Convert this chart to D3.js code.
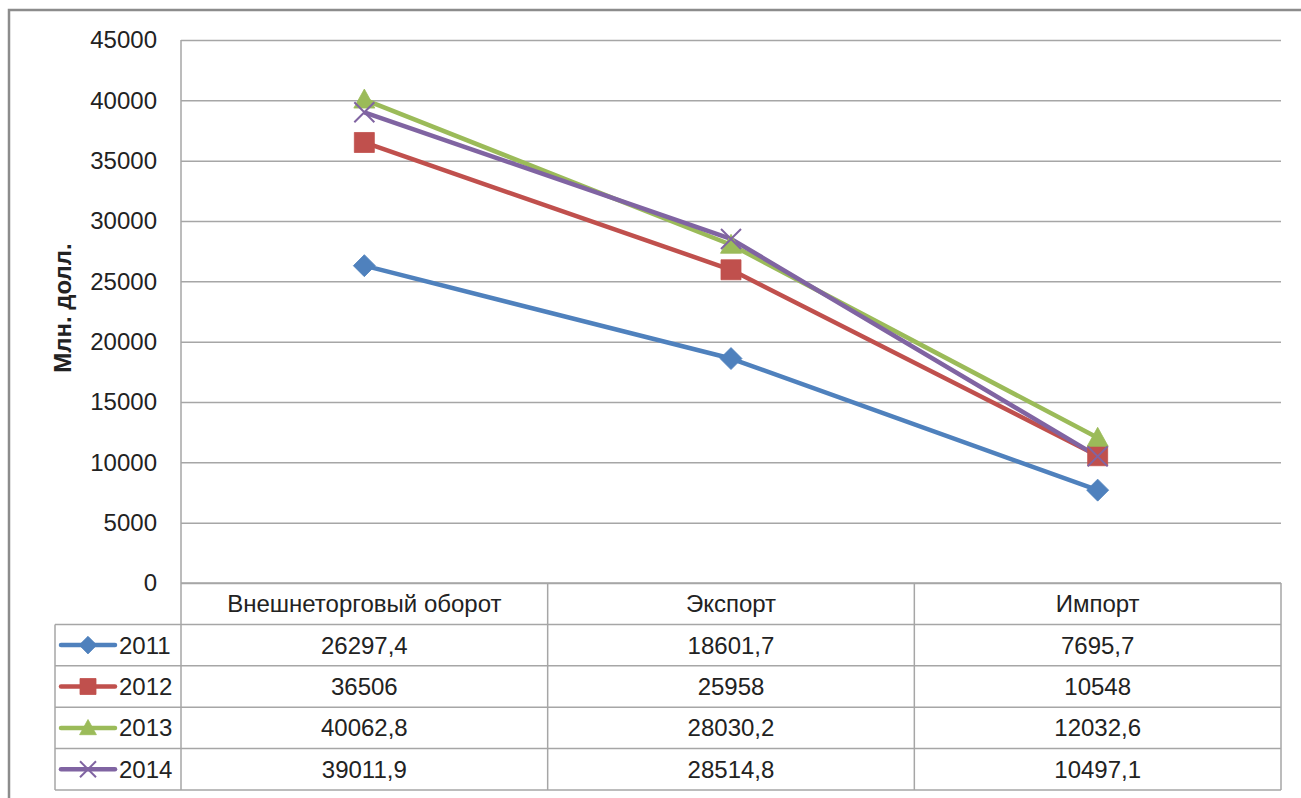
<!DOCTYPE html>
<html><head><meta charset="utf-8">
<script src="https://cdn.jsdelivr.net/npm/d3@7"></script>
<style>body{margin:0;background:#fff}svg{display:block}text{font-family:"Liberation Sans",Arial,sans-serif;fill:#222}</style>
</head><body><svg id="c" width="1301" height="798"></svg>
<script>
const categories = ["Внешнеторговый оборот", "Экспорт", "Импорт"];
const years = ["2011", "2012", "2013", "2014"];
const v2011 = [26297.4, 18601.7, 7695.7];
const v2012 = [36506, 25958, 10548];
const v2013 = [40062.8, 28030.2, 12032.6];
const v2014 = [39011.9, 28514.8, 10497.1];
const labels2011 = ["26297,4", "18601,7", "7695,7"];
const labels2012 = ["36506", "25958", "10548"];
const labels2013 = ["40062,8", "28030,2", "12032,6"];
const labels2014 = ["39011,9", "28514,8", "10497,1"];
const yTicks = [0, 5000, 10000, 15000, 20000, 25000, 30000, 35000, 40000, 45000];
const yTitle = "Млн. долл.";
const colors = ["#4F81BD", "#C0504D", "#9BBB59", "#8064A2"];
const markers = ["diamond", "square", "triangle", "cross"];

const series = [
  {name: years[0], values: v2011, labels: labels2011},
  {name: years[1], values: v2012, labels: labels2012},
  {name: years[2], values: v2013, labels: labels2013},
  {name: years[3], values: v2014, labels: labels2014}
];

const svg = d3.select("#c");
const L = 181, R = 1281, T = 40, B = 583;
const gridCol = "#a6a6a6";
const fs = "24px";

// outer frame
svg.append("rect").attr("x", 9).attr("y", 10).attr("width", 1400).attr("height", 900)
  .attr("fill", "none").attr("stroke", "#8c8c8c").attr("stroke-width", 2.5);

const x = d3.scaleBand().domain(categories).range([L, R]);
const y = d3.scaleLinear().domain([0, 45000]).range([B, T]);
const cx = c => x(c) + x.bandwidth() / 2;

// gridlines + y axis
const yAxis = d3.axisLeft(y).tickValues(yTicks).tickSize(-(R - L)).tickPadding(24).tickFormat(d3.format("d"));
const gy = svg.append("g").attr("transform", `translate(${L},0)`).call(yAxis);
gy.select(".domain").remove();
gy.selectAll(".tick line").attr("stroke", gridCol).attr("stroke-width", 1.5);
gy.selectAll(".tick text").style("font-size", fs).attr("fill", "#222")
  .style("font-family", '"Liberation Sans",Arial,sans-serif');
svg.append("line").attr("x1", L).attr("x2", L).attr("y1", T).attr("y2", B)
  .attr("stroke", gridCol).attr("stroke-width", 1.5);

// axis title
svg.append("text").attr("transform", `translate(71,308) rotate(-90)`)
  .attr("text-anchor", "middle").style("font-size", "24px").style("font-weight", "bold")
  .text(yTitle);

// table
const rowH = 41.4;
const rowTop = i => B + rowH * i;
const tbl = svg.append("g");
tbl.append("line").attr("x1", L).attr("x2", R).attr("y1", B).attr("y2", B).attr("stroke", gridCol).attr("stroke-width", 1.5);
for (let i = 1; i <= series.length + 1; i++) {
  tbl.append("line").attr("x1", 55).attr("x2", R).attr("y1", rowTop(i)).attr("y2", rowTop(i))
    .attr("stroke", gridCol).attr("stroke-width", 1.5);
}
const vx = [L].concat(categories.map(c => x(c) + x.bandwidth()));
vx.forEach(v => tbl.append("line").attr("x1", v).attr("x2", v).attr("y1", B).attr("y2", rowTop(series.length + 1))
  .attr("stroke", gridCol).attr("stroke-width", 1.5));
tbl.append("line").attr("x1", 55).attr("x2", 55).attr("y1", rowTop(1)).attr("y2", rowTop(series.length + 1))
  .attr("stroke", gridCol).attr("stroke-width", 1.5);
categories.forEach(c => tbl.append("text").attr("x", cx(c)).attr("y", B + rowH / 2 + 8.5)
  .attr("text-anchor", "middle").style("font-size", fs).text(c));

function markerPath(type, s) {
  const p = d3.path();
  if (type === "diamond") { p.moveTo(0, -s); p.lineTo(s, 0); p.lineTo(0, s); p.lineTo(-s, 0); p.closePath(); }
  else if (type === "square") { p.rect(-s, -s, 2 * s, 2 * s); }
  else if (type === "triangle") { p.moveTo(0, -s * 1.05); p.lineTo(s * 1.05, s * 0.85); p.lineTo(-s * 1.05, s * 0.85); p.closePath(); }
  else { p.moveTo(-s, -s); p.lineTo(s, s); p.moveTo(s, -s); p.lineTo(-s, s); }
  return p.toString();
}
const mSize = [11, 10, 10, 10];
function drawMarker(g, type, col, px, py, sc) {
  const s = mSize[markers.indexOf(type)] * sc;
  const m = g.append("path").attr("d", markerPath(type, s)).attr("transform", `translate(${px},${py})`);
  if (type === "cross") m.attr("fill", "none").attr("stroke", col).attr("stroke-width", 2);
  else m.attr("fill", col).attr("stroke", col).attr("stroke-width", 0.8);
}

series.forEach((s, i) => {
  const ty = rowTop(i + 1) + rowH / 2 + 8.5;
  const g = tbl.append("g");
  g.append("line").attr("x1", 61).attr("x2", 115).attr("y1", ty - 8.5).attr("y2", ty - 8.5)
    .attr("stroke", colors[i]).attr("stroke-width", 4.5).attr("stroke-linecap", "round");
  drawMarker(g, markers[i], colors[i], 88, ty - 8.5, 0.8);
  g.append("text").attr("x", 119).attr("y", ty).style("font-size", fs).text(s.name);
  categories.forEach((c, j) => g.append("text").attr("x", cx(c)).attr("y", ty)
    .attr("text-anchor", "middle").style("font-size", fs).text(s.labels[j]));
});

const line = d3.line().x((d, j) => cx(categories[j])).y(d => y(d));
series.forEach((s, i) => {
  svg.append("path").datum(s.values).attr("d", line).attr("fill", "none")
    .attr("stroke", colors[i]).attr("stroke-width", 4.5).attr("stroke-linejoin", "round");
});
series.forEach((s, i) => {
  const g = svg.append("g");
  s.values.forEach((v, j) => drawMarker(g, markers[i], colors[i], cx(categories[j]), y(v), 1));
});
</script></body></html>
